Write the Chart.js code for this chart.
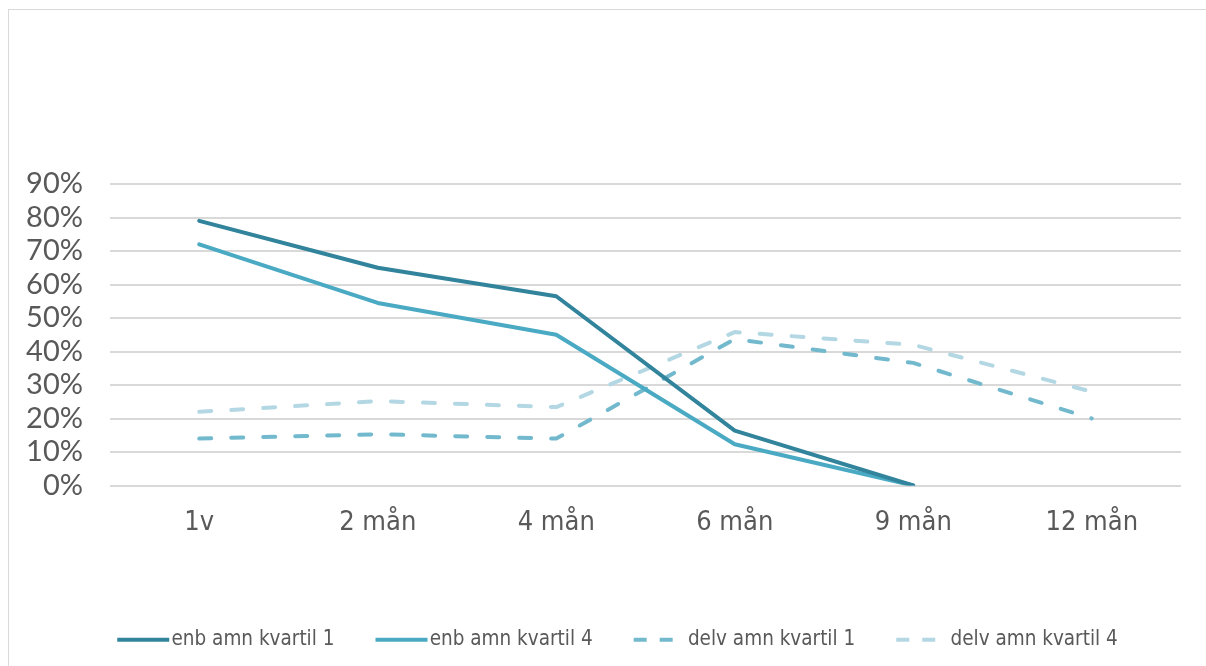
<!DOCTYPE html>
<html>
<head>
<meta charset="utf-8">
<script src="https://cdn.jsdelivr.net/npm/chart.js@4.4.1/dist/chart.umd.min.js"></script>
<style>
  html, body { margin: 0; padding: 0; background: #ffffff; overflow: hidden; }
  #wrap { position: relative; width: 1206px; height: 666px; }
  #frame { position: absolute; left: 8px; top: 9px; width: 1220px; height: 680px;
           border-top: 1px solid #d9d9d9; border-left: 1px solid #d9d9d9; }
  canvas { position: absolute; left: 0; top: 0; }
</style>
</head>
<body>
<div id="wrap">
  <div id="frame"></div>
  <canvas id="c" width="1206" height="666"></canvas>
</div>
<script>
// Follow-up points
const categories = ['1v', '2 mån', '4 mån', '6 mån', '9 mån', '12 mån'];

// Share (%) per quartile
const enbKvartil1 = [79, 65, 56.5, 16.4, 0, null];
const enbKvartil4 = [72, 54.5, 45, 12.3, 0, null];
const delvKvartil1 = [14, 15.3, 14, 43.7, 36.6, 20];
const delvKvartil4 = [22, 25.2, 23.4, 45.8, 42, 28];

const seriesNames = ['enb amn kvartil 1', 'enb amn kvartil 4', 'delv amn kvartil 1', 'delv amn kvartil 4'];

const yTicks = [0, 10, 20, 30, 40, 50, 60, 70, 80, 90];

const dash = [12, 20];
const legendDash = [13, 13];

function lineSet(label, data, color, dashed) {
  return {
    label: label,
    data: data,
    borderColor: color,
    backgroundColor: color,
    borderWidth: 4,
    borderDash: dashed ? dash : [],
    borderCapStyle: 'round',
    borderJoinStyle: 'round',
    pointRadius: 0,
    pointHoverRadius: 0,
    pointStyle: 'line',
    tension: 0,
    spanGaps: false,
    fill: false
  };
}

// Legend sample: a 52px stroke that ends just before the label text
function legendSwatch(color, lineDash) {
  const c = document.createElement('canvas');
  c.width = 60;
  c.height = 8;
  const g = c.getContext('2d');
  g.strokeStyle = color;
  g.lineWidth = 4;
  g.lineCap = 'butt';
  g.setLineDash(lineDash);
  g.beginPath();
  g.moveTo(7, 4);
  g.lineTo(59, 4);
  g.stroke();
  return c;
}

const narrowFont = "'Liberation Sans Narrow', 'DejaVu Sans Condensed', sans-serif";

// The legend row sits a little right of the canvas centre, under the plot
const legendOffset = {
  id: 'legendOffset',
  afterLayout(chart) {
    const lg = chart.legend;
    if (lg) { lg.left += 28; lg.right += 28; }
  }
};

new Chart(document.getElementById('c'), {
  type: 'line',
  data: {
    labels: categories,
    datasets: [
      lineSet(seriesNames[0], enbKvartil1, '#31849b', false),
      lineSet(seriesNames[1], enbKvartil4, '#4aaac3', false),
      lineSet(seriesNames[2], delvKvartil1, '#72b9cd', true),
      lineSet(seriesNames[3], delvKvartil4, '#b3d7e3', true)
    ]
  },
  plugins: [legendOffset],
  options: {
    responsive: false,
    animation: false,
    events: [],
    layout: { padding: { top: 184, right: 25, bottom: 6, left: 0 } },
    plugins: {
      title: { display: false },
      tooltip: { enabled: false },
      legend: {
        position: 'bottom',
        align: 'center',
        labels: {
          usePointStyle: true,
          pointStyleWidth: 42,
          boxHeight: 20,
          padding: 43,
          color: '#595959',
          font: { family: narrowFont, size: 20.5 },
          generateLabels: function (chart) {
            return chart.data.datasets.map((ds, i) => ({
              text: ds.label,
              datasetIndex: i,
              strokeStyle: ds.borderColor,
              fillStyle: ds.borderColor,
              fontColor: '#595959',
              lineWidth: 0,
              pointStyle: legendSwatch(ds.borderColor, ds.borderDash.length ? legendDash : []),
              hidden: false
            }));
          }
        }
      }
    },
    scales: {
      x: {
        offset: true,
        grid: { display: false, drawTicks: false },
        border: { display: false },
        ticks: {
          padding: 21,
          maxRotation: 0,
          color: '#595959',
          font: { family: narrowFont, size: 27 }
        },
        afterFit: function (scale) { scale.height = 101; }
      },
      y: {
        min: 0,
        max: 90,
        afterBuildTicks: function (scale) { scale.ticks = yTicks.map(v => ({ value: v })); },
        grid: { color: '#d9d9d9', lineWidth: 2, drawTicks: false },
        border: { display: false },
        ticks: {
          autoSkip: false,
          padding: 27,
          color: '#595959',
          font: { family: "Lato, 'Open Sans', sans-serif", size: 29 },
          callback: function (v) { return v + '%'; }
        },
        afterFit: function (scale) { scale.width = 110; }
      }
    }
  }
});
</script>
</body>
</html>
